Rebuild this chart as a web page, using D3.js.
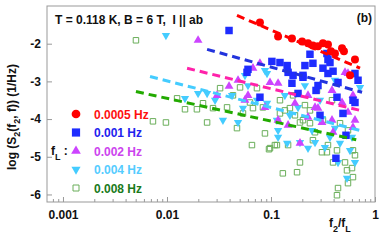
<!DOCTYPE html>
<html>
<head>
<meta charset="utf-8">
<script src="https://cdn.jsdelivr.net/npm/d3@7"></script>
<style>
  body { margin: 0; background: #fff; }
  svg { font-family: "Liberation Sans", Arial, sans-serif; font-weight: bold; }
  text { white-space: pre; }
</style>
</head>
<body>
<svg width="382" height="242"></svg>
<script>
// f2/fL, log S2 pairs
var s0005 = [[0.0783,-1.44],[0.117,-1.81],[0.159,-1.86],[0.199,-1.94],[0.227,-1.99],[0.253,-2.05],
  [0.283,-2.07],[0.316,-1.99],[0.353,-2.02],[0.377,-2.20],[0.412,-2.26],[0.482,-2.12],[0.503,-2.20],
  [0.642,-2.42],[0.575,-2.84]];
var s001 = [[0.0395,-1.65],[0.0601,-2.68],[0.102,-2.47],[0.122,-2.50],[0.143,-2.58],[0.163,-2.84],
  [0.203,-2.84],[0.237,-2.28],[0.345,-2.26],[0.353,-2.42],[0.253,-2.52],[0.212,-2.58],[0.316,-2.65],
  [0.395,-2.73],[0.369,-2.50],[0.203,-2.89],[0.159,-3.05],[0.283,-3.11],[0.353,-2.79],[0.441,-3.03],
  [0.687,-2.97],[0.642,-2.79],[0.182,-3.32],[0.431,-3.42],[0.614,-3.50],[0.492,-3.85],[0.296,-3.90],
  [0.146,-2.76],[0.0783,-3.42],[0.0588,-2.76],[0.642,-3.56],[0.526,-4.43],[0.421,-5.04],[0.271,-3.24]];
var s002 = [[0.0199,-1.91],[0.0482,-2.97],[0.0671,-2.65],[0.0783,-2.52],[0.152,-2.79],[0.515,-2.76],
  [0.0395,-3.13],[0.0303,-3.37],[0.0601,-3.37],[0.0978,-3.03],[0.0875,-3.69],[0.117,-3.05],[0.170,-3.58],
  [0.227,-3.37],[0.265,-3.69],[0.386,-3.24],[0.482,-3.56],[0.550,-3.82],[0.642,-4.03],[0.614,-3.37],
  [0.386,-4.03],[0.309,-4.09],[0.146,-4.16],[0.227,-3.95],[0.550,-2.79],[0.117,-4.03],[0.395,-4.35],
  [0.190,-4.64],[0.614,-4.22],[0.283,-3.71],[0.0562,-3.50]];
var s004 = [[0.00977,-1.78],[0.0149,-3.45],[0.0199,-3.32],[0.0243,-3.32],[0.0422,-3.37],[0.0538,-3.71],
  [0.0345,-4.03],[0.0482,-4.09],[0.0601,-3.11],[0.0916,-2.79],[0.0733,-3.50],[0.114,-4.03],[0.117,-4.30],
  [0.0916,-3.58],[0.117,-4.48],[0.143,-4.64],[0.227,-4.77],[0.265,-4.62],[0.330,-4.75],[0.369,-4.48],
  [0.642,-5.15],[0.538,-5.57],[0.190,-4.62],[0.461,-4.64],[0.441,-5.15],[0.601,-4.48],[0.412,-4.24],
  [0.309,-3.98],[0.182,-3.69],[0.136,-3.37],[0.412,-2.97],[0.718,-3.16],[0.0875,-2.71],[0.0562,-2.84],
  [0.212,-3.11],[0.296,-3.50],[0.575,-4.83],[0.152,-3.90],[0.029,-3.50],[0.248,-4.30]];
var s008 = [[0.00503,-1.91],[0.0125,-3.45],[0.0149,-3.74],[0.00733,-4.06],[0.00977,-4.09],[0.0222,-3.58],
  [0.0243,-4.09],[0.0194,-3.74],[0.0324,-3.18],[0.0431,-3.37],[0.0277,-3.71],[0.0378,-3.69],[0.0471,-4.24],
  [0.0656,-4.69],[0.0978,-4.77],[0.109,-4.69],[0.0875,-4.38],[0.0837,-3.69],[0.122,-3.85],[0.190,-4.09],
  [0.237,-4.11],[0.265,-4.35],[0.190,-5.15],[0.178,-5.41],[0.130,-5.44],[0.345,-4.88],[0.395,-5.15],
  [0.441,-5.83],[0.431,-6.02],[0.538,-5.36],[0.601,-5.30],[0.614,-4.83],[0.550,-4.30],[0.461,-4.11],
  [0.386,-3.50],[0.277,-3.24],[0.163,-3.37],[0.152,-3.71],[0.0671,-3.71],[0.0628,-3.56],[0.0733,-3.18],
  [0.0504,-3.16],[0.237,-3.77],[0.203,-4.03],[0.316,-4.03],[0.353,-4.69],[0.0538,-3.85],[0.146,-4.69],
  [0.253,-4.56],[0.309,-4.88],[0.431,-4.83],[0.515,-5.15],[0.642,-4.96],[0.614,-5.54],[0.550,-5.70],
  [0.114,-4.69],[0.0957,-4.80],[0.122,-3.50],[0.136,-3.77],[0.170,-3.90],[0.212,-3.63]];

// dashed power-law fits, two end points each
var fit0005 = [[0.0471,-1.25],[0.718,-2.65]];
var fit001 = [[0.0243,-2.15],[0.751,-3.29]];
var fit002 = [[0.0156,-2.65],[0.718,-3.77]];
var fit004 = [[0.00687,-2.87],[0.718,-4.30]];
var fit008 = [[0.00503,-3.27],[0.66,-4.55]];

var legendLabels = ["0.0005 Hz", "0.001 Hz", "0.002 Hz", "0.004 Hz", "0.008 Hz"];
var xTicks = [0.001, 0.01, 0.1, 1];
var xTickLabels = ["0.001", "0.01", "0.1", "1"];
var yTicks = [-2, -3, -4, -5, -6];
var yTickLabels = ["-2", "-3", "-4", "-5", "-6"];

var svg = d3.select("svg");
var x = d3.scaleLog().domain([0.000702, 1]).range([47, 375]);
var y = d3.scaleLinear().domain([-6.2, -1.0]).range([202, 6]);

var series = [
  {data: s0005, fit: fit0005, sym: d3.symbolCircle, size: 50, fill: "#ff0000", stroke: "none", line: "#ff0000", text: "#ff1010", rot: 0},
  {data: s001, fit: fit001, sym: d3.symbolSquare, size: 56, fill: "#1e2cff", stroke: "none", line: "#2233dd", text: "#2222ee", rot: 0},
  {data: s002, fit: fit002, sym: d3.symbolTriangle, size: 34, fill: "#cc44ff", stroke: "none", line: "#ff22aa", text: "#cc44ee", rot: 0},
  {data: s004, fit: fit004, sym: d3.symbolTriangle, size: 30, fill: "#44ccff", stroke: "none", line: "#44ccff", text: "#55ccff", rot: 180},
  {data: s008, fit: fit008, sym: d3.symbolSquare, size: 30, fill: "none", stroke: "#6aae5a", line: "#22aa00", text: "#1a7a1a", rot: 0}
];

// markers, last series underneath
series.slice().reverse().forEach(function(s) {
  svg.append("g").selectAll("path")
    .data(s.data)
    .enter().append("path")
    .attr("d", d3.symbol().type(s.sym).size(s.size))
    .attr("transform", function(d) {
      return "translate(" + x(d[0]) + "," + y(d[1]) + ") rotate(" + s.rot + ")";
    })
    .attr("fill", s.fill)
    .attr("stroke", s.stroke)
    .attr("stroke-width", 1);
});

var line = d3.line()
  .x(function(d) { return x(d[0]); })
  .y(function(d) { return y(d[1]); });

series.forEach(function(s) {
  svg.append("path")
    .datum(s.fit)
    .attr("d", line)
    .attr("fill", "none")
    .attr("stroke", s.line)
    .attr("stroke-width", 3)
    .attr("stroke-dasharray", "8,5");
});

// frame
svg.append("rect")
  .attr("x", 47).attr("y", 6)
  .attr("width", 328).attr("height", 196)
  .attr("fill", "none").attr("stroke", "#999").attr("stroke-width", 1);

var minor = [];
[0.001, 0.01, 0.1].forEach(function(d) {
  for (var k = 2; k <= 9; k++) minor.push(d * k);
});
minor.push(0.0008, 0.0009);

var gx = svg.append("g").attr("transform", "translate(0,202)");
gx.call(d3.axisBottom(x).tickValues(minor).tickSize(-3).tickFormat(""));
gx.append("g").call(d3.axisBottom(x).tickValues(xTicks).tickSize(-5).tickPadding(8)
  .tickFormat(function(d, i) { return xTickLabels[i]; }));
gx.selectAll(".domain").remove();
gx.selectAll("line").attr("stroke", "#999");
gx.selectAll("text").attr("fill", "#111").style("font-size", "12px").style("font-weight", "bold")
  .style("font-family", "'Liberation Sans', Arial, sans-serif");

var gy = svg.append("g").attr("transform", "translate(47,0)");
gy.call(d3.axisLeft(y).tickValues(yTicks).tickSize(-5).tickPadding(6)
  .tickFormat(function(d, i) { return yTickLabels[i]; }));
gy.selectAll(".domain").remove();
gy.selectAll("line").attr("stroke", "#999");
gy.selectAll("text").attr("fill", "#111").style("font-size", "12px").style("font-weight", "bold")
  .style("font-family", "'Liberation Sans', Arial, sans-serif");

svg.append("text").attr("x", 55).attr("y", 24).attr("font-size", 12).attr("fill", "#111")
  .text("T = 0.118 K, B = 6 T,  I || ab");
svg.append("text").attr("x", 372).attr("y", 22).attr("font-size", 12).attr("fill", "#111")
  .attr("text-anchor", "end").text("(b)");

// axis titles
var xl = svg.append("text").attr("x", 329).attr("y", 227).attr("font-size", 12).attr("fill", "#111");
xl.append("tspan").text("f");
xl.append("tspan").attr("dy", 5).attr("font-size", 9).text("2");
xl.append("tspan").attr("dy", -5).text("/f");
xl.append("tspan").attr("dy", 5).attr("font-size", 9).text("L");

var yl = svg.append("text").attr("transform", "translate(16,117) rotate(-90)")
  .attr("text-anchor", "middle").attr("font-size", 12).attr("fill", "#111");
yl.append("tspan").text("log (S");
yl.append("tspan").attr("dy", 4).attr("font-size", 9).text("2");
yl.append("tspan").attr("dy", -4).text("(f");
yl.append("tspan").attr("dy", 4).attr("font-size", 9).text("2");
yl.append("tspan").attr("dy", -4).text(", f)) (1/Hz)");

// legend
var leg = svg.append("g");
series.forEach(function(s, i) {
  var ly = 114 + i * 18.5;
  leg.append("path")
    .attr("d", d3.symbol().type(s.sym).size(s.size * 1.2))
    .attr("transform", "translate(76," + ly + ") rotate(" + s.rot + ")")
    .attr("fill", s.fill).attr("stroke", s.stroke);
  leg.append("text").attr("x", 94).attr("y", ly + 4.5)
    .attr("font-size", 12).attr("fill", s.text).text(legendLabels[i]);
});
var fl = svg.append("text").attr("x", 51).attr("y", 155).attr("font-size", 12).attr("fill", "#111");
fl.append("tspan").text("f");
fl.append("tspan").attr("dy", 5).attr("font-size", 9).text("L");
fl.append("tspan").attr("dy", -5).text(" :");
</script>
</body>
</html>
